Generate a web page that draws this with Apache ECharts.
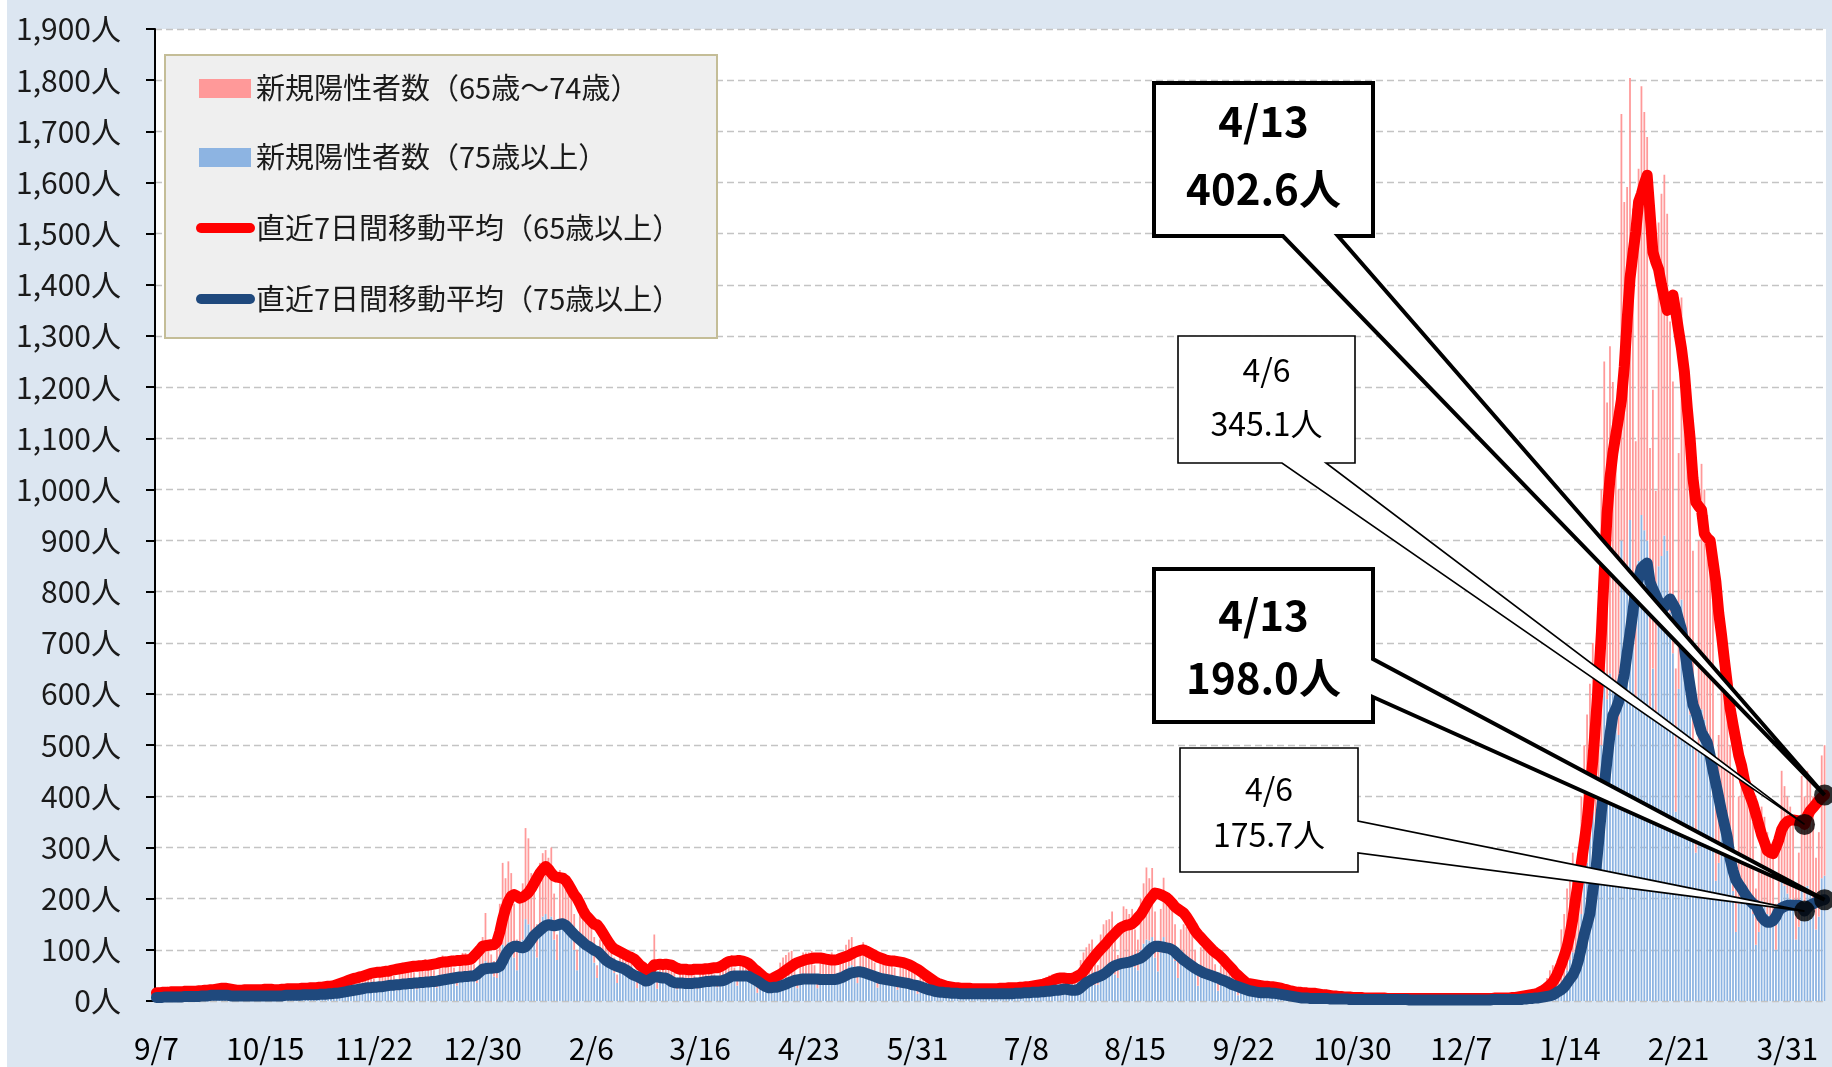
<!DOCTYPE html>
<html><head><meta charset="utf-8">
<script src="https://cdn.jsdelivr.net/npm/echarts@6/dist/echarts.min.js"></script>
<style>html,body{margin:0;padding:0;background:#dce6f1}#c{width:1832px;height:1067px}</style>
</head><body><div id="c"></div><script>
// ---------------- DATA ----------------
const startDate = [2020, 9, 7];   // first day (Monday), one category per day
const yMin = 0, yMax = 1900, yStep = 100;
const seriesNames = ['新規陽性者数（65歳～74歳）','新規陽性者数（75歳以上）','直近7日間移動平均（65歳以上）','直近7日間移動平均（75歳以上）'];

// 直近7日間移動平均（65歳以上） – one row per week (Mon..Sun)
const avg65plus = [
16,16,17,17,17,18,18, 18,18,18,19,19,19,19, 19,20,20,21,21,22,22, 23,24,25,25,24,23,22,
21,21,21,22,22,22,22, 22,22,22,23,23,23,22, 22,22,23,23,24,24,24, 24,24,25,25,25,26,26,
26,27,27,28,29,29,30, 32,34,36,38,40,42,44, 45,47,48,50,52,54,55, 56,56,57,58,58,60,61,
62,63,64,65,66,67,68, 68,69,69,70,70,71,72, 73,75,76,76,77,78,78, 79,79,80,80,81,82,88,
94,100,107,108,109,110,110, 116,135,160,180,195,205,208, 205,201,203,207,212,220,230, 240,250,257,263,258,250,244,
242,241,240,236,228,218,208, 201,190,178,168,162,156,150, 149,142,133,124,115,107,102, 99,96,93,90,87,85,82,
76,70,66,60,58,64,71, 71,72,71,72,71,70,67, 64,62,62,62,61,61,62, 62,62,62,63,63,64,65,
65,67,70,74,77,78,78, 79,79,78,76,73,68,62, 58,53,48,44,42,43,46, 49,52,56,60,64,68,72,
75,77,79,81,82,83,84, 84,84,83,82,81,80,80, 81,83,85,87,89,92,95, 97,99,100,98,95,92,89,
86,84,82,80,79,78,78, 77,76,75,73,71,68,65, 62,58,54,50,46,42,38, 35,33,31,29,28,27,26,
26,25,25,25,25,24,24, 24,24,24,24,24,24,24, 24,25,25,25,26,26,26, 26,27,27,28,28,29,30,
31,32,33,35,37,39,42, 44,45,45,44,44,44,46, 49,52,58,66,74,81,88, 95,101,107,113,120,126,132,
138,143,146,148,149,151,156, 163,169,178,188,197,204,211, 210,208,205,202,197,191,184, 180,176,172,165,156,147,137,
130,124,118,112,106,100,95, 91,86,80,74,68,62,55, 50,45,40,35,34,33,32, 31,30,29,29,28,28,27,
26,25,23,22,20,19,18, 17,17,16,16,15,15,15, 14,13,12,12,11,10,10, 9,9,8,8,8,7,7,
7,7,6,6,6,6,6, 6,6,6,5,5,5,5, 5,5,5,5,5,5,5, 5,5,5,5,5,5,5,
5,5,5,5,5,5,5, 5,5,5,5,5,5,5, 5,5,5,5,5,5,6, 6,6,6,6,6,7,7,
8,9,10,11,12,13,14, 16,19,22,26,31,37,46, 58,72,88,105,130,160,200, 235,270,310,351,410,470,545,
625,719,839,953,1022,1070,1105, 1139,1175,1240,1330,1412,1460,1503, 1562,1578,1598,1614,1540,1464,1445, 1430,1400,1375,1350,1360,1380,1347,
1310,1275,1230,1160,1100,1022,975, 967,960,913,905,900,860,820, 759,715,666,620,572,540,510, 480,460,431,415,400,385,365,
345,325,310,294,290,288,300, 315,335,345,351,353,354,353, 352,350,345.1,362,372,378,385, 392,398,402.6
];

// 直近7日間移動平均（75歳以上）
const avg75plus = [
7,7,7,8,8,8,8, 8,8,8,9,9,9,9, 9,9,10,10,10,11,11, 11,11,11,11,11,10,10,
10,10,10,10,10,10,10, 10,10,10,10,10,10,10, 10,10,10,11,11,11,11, 11,11,12,12,12,12,12,
12,13,13,13,14,14,15, 15,16,17,18,19,20,21, 22,23,24,25,26,26,27, 27,28,28,29,30,31,31,
32,32,33,33,34,34,35, 35,36,36,37,37,38,38, 39,40,41,42,43,44,45, 46,47,47,48,48,49,49,
52,57,62,63,64,64,65, 65,68,78,90,98,104,107, 107,105,104,106,112,120,128, 133,138,143,147,149,148,147,
148,150,151,148,142,136,130, 125,120,115,110,107,103,99, 97,92,86,80,76,73,70, 68,66,64,61,57,53,50,
48,45,42,39,40,44,47, 47,46,45,45,42,38,36, 35,35,35,34,34,34,35, 35,36,37,38,38,39,39,
39,39,40,42,45,48,49, 49,49,49,49,48,45,42, 39,35,31,28,26,26,27, 27,29,31,33,36,38,40,
41,42,43,43,43,43,43, 43,42,42,42,42,42,42, 43,45,47,50,53,55,56, 57,57,56,54,52,50,48,
46,44,43,42,41,40,39, 38,37,36,35,34,32,31, 30,28,26,24,22,21,19, 18,17,17,16,16,15,15,
15,14,14,14,14,14,14, 14,14,14,14,14,14,14, 14,14,14,14,14,14,15, 15,15,16,16,16,17,17,
17,18,18,19,19,20,21, 21,22,23,23,22,21,21, 22,26,31,36,39,42,45, 47,49,52,56,61,66,69,
71,73,74,75,76,78,80, 82,84,88,93,99,104,107, 107,106,105,104,103,100,96, 90,85,80,76,72,68,64,
61,58,55,53,51,49,47, 45,42,40,38,35,32,30, 28,26,24,22,20,19,18, 17,16,16,16,16,15,15,
14,13,12,11,10,9,8, 7,6,6,6,5,5,5, 5,5,5,5,4,4,4, 4,4,4,4,3,3,3,
3,3,3,3,3,3,3, 3,3,3,3,3,3,3, 3,3,3,3,2,2,2, 2,2,2,2,2,2,2,
2,2,2,2,2,2,2, 2,2,2,2,2,2,2, 2,2,2,2,2,3,3, 3,3,3,3,3,3,3,
3,3,4,4,5,5,6, 6,7,8,9,10,12,15, 19,22,27,35,43,50,62, 80,104,130,150,171,215,251,
310,371,420,472,520,558,570, 585,612,639,680,719,760,806, 826,846,852,856,819,805,793, 780,766,770,779,786,776,766,
745,726,690,652,615,579,565, 545,525,515,505,480,451,425, 398,370,345,320,278,255,237, 228,220,211,203,196,190,187,
175,164,158,154,154,157,165, 177,182,185,187,187,187,187, 187,183,175.7,182,188,190,193, 195,197,198.0
];

// 新規陽性者数（75歳以上） daily
const daily75plus = [
5,7,9,9,8,9,6, 5,9,10,10,9,10,7, 6,10,12,11,11,11,9, 7,11,12,13,12,12,8,
6,10,12,11,12,11,8, 7,10,11,12,11,12,8, 7,11,12,12,11,13,8, 7,12,13,14,13,13,9,
8,13,15,16,15,15,11, 10,16,21,21,22,23,17, 15,24,29,29,28,29,22, 18,28,33,34,32,34,25,
21,32,38,38,37,37,29, 23,36,42,43,41,42,32, 26,41,49,48,47,46,36, 30,47,56,55,53,54,41,
35,62,70,78,66,55,48, 45,85,110,100,115,105,85, 60,105,120,160,150,130,118, 85,150,165,170,160,165,120,
80,150,145,150,130,135,100, 60,110,105,100,95,100,75, 45,80,75,70,65,72,55, 35,55,57,55,52,52,40,
25,42,45,40,45,48,72, 24,46,48,46,45,48,36, 23,36,40,38,37,40,30, 24,38,43,42,41,43,31,
27,44,50,52,54,55,40, 30,50,53,50,42,37,30, 16,28,30,28,28,30,25, 20,38,42,45,48,48,36,
25,45,50,50,50,52,36, 25,45,48,47,48,50,36, 35,48,52,60,68,70,55, 35,58,62,60,55,56,42,
26,45,47,46,44,45,33, 22,38,40,37,34,33,26, 14,24,23,20,18,17,13, 9,16,17,16,15,15,11,
8,15,16,15,15,16,10, 9,14,16,15,16,15,10, 9,15,16,16,16,16,11, 10,16,19,18,19,19,13,
11,20,22,23,24,25,17, 12,22,24,25,24,24,18, 18,30,35,38,40,42,32, 32,55,62,65,66,72,52,
45,70,80,82,80,85,66, 60,100,112,120,118,125,85, 58,95,125,105,100,100,78, 45,75,80,78,75,72,54,
30,55,58,56,53,52,38, 20,37,38,34,31,29,22, 11,20,19,17,16,15,12, 10,18,19,18,17,17,12,
6,11,11,10,9,9,7, 4,7,7,7,6,6,5, 3,5,5,5,5,5,3, 2,4,4,4,3,4,2,
2,3,3,3,3,3,2, 1,3,3,3,2,3,2, 1,2,3,3,2,3,2, 2,3,3,2,3,3,1,
1,3,3,3,2,3,2, 2,2,3,3,3,2,2, 1,3,3,3,3,3,2, 2,3,3,3,3,3,2,
2,4,4,5,6,4,5, 3,8,10,12,15,17,14, 14,35,45,60,80,95,90, 70,170,230,270,320,370,340,
270,500,620,590,640,610,530, 520,900,810,830,940,800,590, 860,950,920,900,575,650,550, 850,870,910,880,760,680,370,
610,785,710,620,560,500,290, 490,570,550,520,450,410,235, 270,360,320,280,240,215,135, 190,225,215,205,185,170,110,
135,195,185,170,155,160,100, 160,240,225,210,200,185,120, 145,220,195,225,215,200,140, 165,240,245
];

// 新規陽性者数（65歳～74歳） daily
const daily65to74 = [
6,9,11,10,11,10,8, 7,10,12,11,11,12,8, 7,11,12,13,12,12,9, 8,14,16,15,14,14,10,
7,12,13,14,13,12,10, 8,12,14,15,14,13,10, 8,12,15,14,14,14,10, 9,13,16,15,15,15,11,
9,15,17,17,16,17,12, 12,20,23,24,24,25,18, 16,25,29,30,28,29,21, 19,29,34,33,33,34,24,
21,32,37,37,36,36,27, 22,33,38,39,36,37,28, 22,34,40,39,37,38,29, 22,32,38,39,36,37,31,
30,45,55,94,50,36,30, 55,105,160,140,158,145,105, 60,95,110,178,168,120,112, 65,120,124,125,120,135,90,
50,106,95,100,90,95,70, 40,70,65,60,55,60,50, 25,40,40,35,35,38,30, 17,30,31,30,30,28,22,
15,20,23,20,25,27,58, 14,24,27,26,25,27,19, 15,26,30,30,29,30,20, 16,27,29,28,27,29,21,
15,28,32,33,34,35,25, 18,28,32,30,26,23,20, 14,22,22,22,22,25,20, 20,37,43,45,47,50,39,
25,40,45,45,45,46,34, 25,40,44,43,44,45,34, 20,32,38,50,52,55,45, 25,47,53,50,45,44,33,
24,43,45,44,41,43,32, 23,42,42,41,38,37,29, 16,26,25,22,20,18,14, 9,14,15,14,13,13,9,
8,11,14,13,12,12,9, 7,11,12,13,11,12,8, 7,12,14,13,13,13,9, 8,14,14,16,16,16,11,
13,20,23,24,26,27,19, 14,24,26,27,26,26,22, 32,50,60,67,72,78,58, 38,75,88,93,94,103,76,
45,75,105,98,90,95,74, 60,100,118,141,122,135,90, 52,85,116,95,90,95,72, 35,65,70,67,65,63,46,
25,50,52,49,47,48,34, 18,33,34,31,29,26,20, 11,20,19,18,16,15,12, 8,12,14,14,13,13,10,
6,11,11,10,10,9,7, 6,10,11,10,10,11,7, 4,6,7,6,6,6,5, 3,4,5,4,5,4,4,
2,4,4,4,4,3,3, 2,3,3,3,4,3,2, 2,3,3,3,3,3,2, 2,3,3,3,2,3,2,
2,2,3,3,3,3,2, 1,3,3,3,3,3,2, 2,3,3,3,3,3,3, 2,3,4,4,4,4,3,
3,6,7,7,8,6,7, 5,17,25,33,45,53,41, 36,105,125,160,180,195,150, 110,230,270,290,300,330,280,
250,500,630,580,640,600,520, 480,834,752,761,864,749,504, 767,838,818,789,506,545,447, 672,708,705,659,568,531,280,
461,590,540,480,440,380,210, 410,480,450,430,400,390,215, 250,340,300,280,260,235,145, 210,235,225,225,195,180,110,
125,185,175,160,145,140,90, 140,210,195,190,180,165,110, 145,220,205,225,215,200,140, 165,240,255
];

// x categories: one per day, labelled M/D
const categories = [];
for (let i = 0; i < avg65plus.length; i++) {
  const d = new Date(Date.UTC(startDate[0], startDate[1] - 1, startDate[2] + i));
  categories.push((d.getUTCMonth() + 1) + '/' + d.getUTCDate());
}
const lastIdx = categories.length - 1;
const prevWeekIdx = lastIdx - 7;

// ---------------- STYLE ----------------
const FONT = "'Noto Sans CJK JP','Noto Sans',sans-serif";
const colPink = '#ff9999', colBlue = '#8db4e2', colRed = '#ff0000', colNavy = '#1f497d';

const chart = echarts.init(document.getElementById('c'), null, {renderer: 'canvas'});
chart.setOption({
  animation: false,
  backgroundColor: '#dce6f1',
  grid: {left: 155, right: 6, top: 29, bottom: 66, show: true, backgroundColor: '#ffffff', borderWidth: 0},
  xAxis: {
    type: 'category', data: categories, boundaryGap: true,
    axisLine: {show: false}, axisTick: {show: false},
    axisLabel: {interval: 37, fontSize: 30, color: '#000', margin: 33, fontFamily: FONT}
  },
  yAxis: {
    type: 'value', min: yMin, max: yMax, interval: yStep,
    axisLine: {show: true, lineStyle: {color: '#000', width: 2}},
    axisTick: {show: true, length: 9, lineStyle: {color: '#000', width: 2}},
    axisLabel: {fontSize: 30, color: '#1a1a1a', margin: 34, fontFamily: FONT,
      formatter: v => v.toLocaleString('en-US') + '人'},
    splitLine: {show: true, lineStyle: {color: '#c4c4c4', width: 1.3, type: [7, 4]}}
  },
  series: [
    {name: seriesNames[1], type: 'bar', stack: 'cases', data: daily75plus, barWidth: '62%',
     itemStyle: {color: colBlue}, z: 1},
    {name: seriesNames[0], type: 'bar', stack: 'cases', data: daily65to74, barWidth: '62%',
     itemStyle: {color: colPink}, z: 1},
    {name: seriesNames[2], type: 'line', data: avg65plus, symbol: 'none', z: 3,
     lineStyle: {color: colRed, width: 11, cap: 'round', join: 'round'}},
    {name: seriesNames[3], type: 'line', data: avg75plus, symbol: 'none', z: 4,
     lineStyle: {color: colNavy, width: 11, cap: 'round', join: 'round'}},
    {name: 'points', type: 'scatter', symbol: 'circle', symbolSize: 21, z: 200,
     itemStyle: {color: '#000'},
     data: [[lastIdx, avg65plus[lastIdx]], [prevWeekIdx, avg65plus[prevWeekIdx]],
            [lastIdx, avg75plus[lastIdx]], [prevWeekIdx, avg75plus[prevWeekIdx]]]}
  ]
});

// ---------------- ANNOTATIONS (layout) ----------------
const callouts = [
  {idx: lastIdx, arr: avg65plus, bold: true, box: [1154, 83, 1373, 236], side: 'bottom', base: [1283, 1338], r: [0.25, 0.69]},
  {idx: prevWeekIdx, arr: avg65plus, bold: false, box: [1178, 336, 1355, 463], side: 'bottom', base: [1282, 1326], r: [0.27, 0.69]},
  {idx: lastIdx, arr: avg75plus, bold: true, box: [1154, 569, 1373, 722], side: 'right', base: [659, 697], r: [0.30, 0.71]},
  {idx: prevWeekIdx, arr: avg75plus, bold: false, box: [1180, 748, 1358, 872], side: 'right', base: [821, 853], r: [0.33, 0.70]}
];
const graphics = [];
graphics.push({type: 'rect', shape: {x: 0, y: 0, width: 7, height: 1067}, style: {fill: '#fff'}, z: 0, silent: true});
callouts.forEach((c, k) => {
  const tip = chart.convertToPixel({xAxisIndex: 0, yAxisIndex: 0}, [c.idx, c.arr[c.idx]]);
  const [x1, y1, x2, y2] = c.box;
  let pts;
  if (c.side === 'bottom') {
    pts = [[x1, y1], [x2, y1], [x2, y2], [c.base[1], y2], tip, [c.base[0], y2], [x1, y2]];
  } else {
    pts = [[x1, y1], [x2, y1], [x2, c.base[0]], tip, [x2, c.base[1]], [x2, y2], [x1, y2]];
  }
  const z = 100 + k * 3;
  graphics.push({type: 'polygon', shape: {points: pts}, z: z,
    style: {fill: '#fff', stroke: '#000', lineWidth: c.bold ? 4 : 1.6, lineJoin: 'miter'}});
  const cx = (x1 + x2) / 2, h = y2 - y1;
  const fs = c.bold ? 42 : 32, fw = c.bold ? 'bold' : 'normal';
  graphics.push({type: 'text', x: cx, y: y1 + h * c.r[0], z: z + 1,
    style: {text: categories[c.idx], font: fw + ' ' + fs + 'px ' + FONT, fill: '#000', align: 'center', verticalAlign: 'middle'}});
  graphics.push({type: 'text', x: cx, y: y1 + h * c.r[1], z: z + 1,
    style: {text: c.arr[c.idx].toFixed(1) + '人', font: fw + ' ' + fs + 'px ' + FONT, fill: '#000', align: 'center', verticalAlign: 'middle'}});
});

// legend (drawn as a framed box like the original)
const legendItems = [
  {name: seriesNames[0], kind: 'rect', color: colPink, y: 88},
  {name: seriesNames[1], kind: 'rect', color: colBlue, y: 157},
  {name: seriesNames[2], kind: 'line', color: colRed, y: 228},
  {name: seriesNames[3], kind: 'line', color: colNavy, y: 299}
];
graphics.push({type: 'rect', shape: {x: 165, y: 55, width: 552, height: 283}, z: 90,
  style: {fill: '#efefef', stroke: '#c4bd97', lineWidth: 2}});
legendItems.forEach(it => {
  if (it.kind === 'rect') {
    graphics.push({type: 'rect', shape: {x: 199, y: it.y - 9, width: 52, height: 19}, z: 91, style: {fill: it.color}});
  } else {
    graphics.push({type: 'line', shape: {x1: 201, y1: it.y, x2: 250, y2: it.y}, z: 91,
      style: {stroke: it.color, lineWidth: 10, lineCap: 'round'}});
  }
  graphics.push({type: 'text', x: 256, y: it.y, z: 91,
    style: {text: it.name, font: '29px ' + FONT, fill: '#1a1a1a', verticalAlign: 'middle'}});
});
chart.setOption({graphic: graphics});
</script></body></html>
